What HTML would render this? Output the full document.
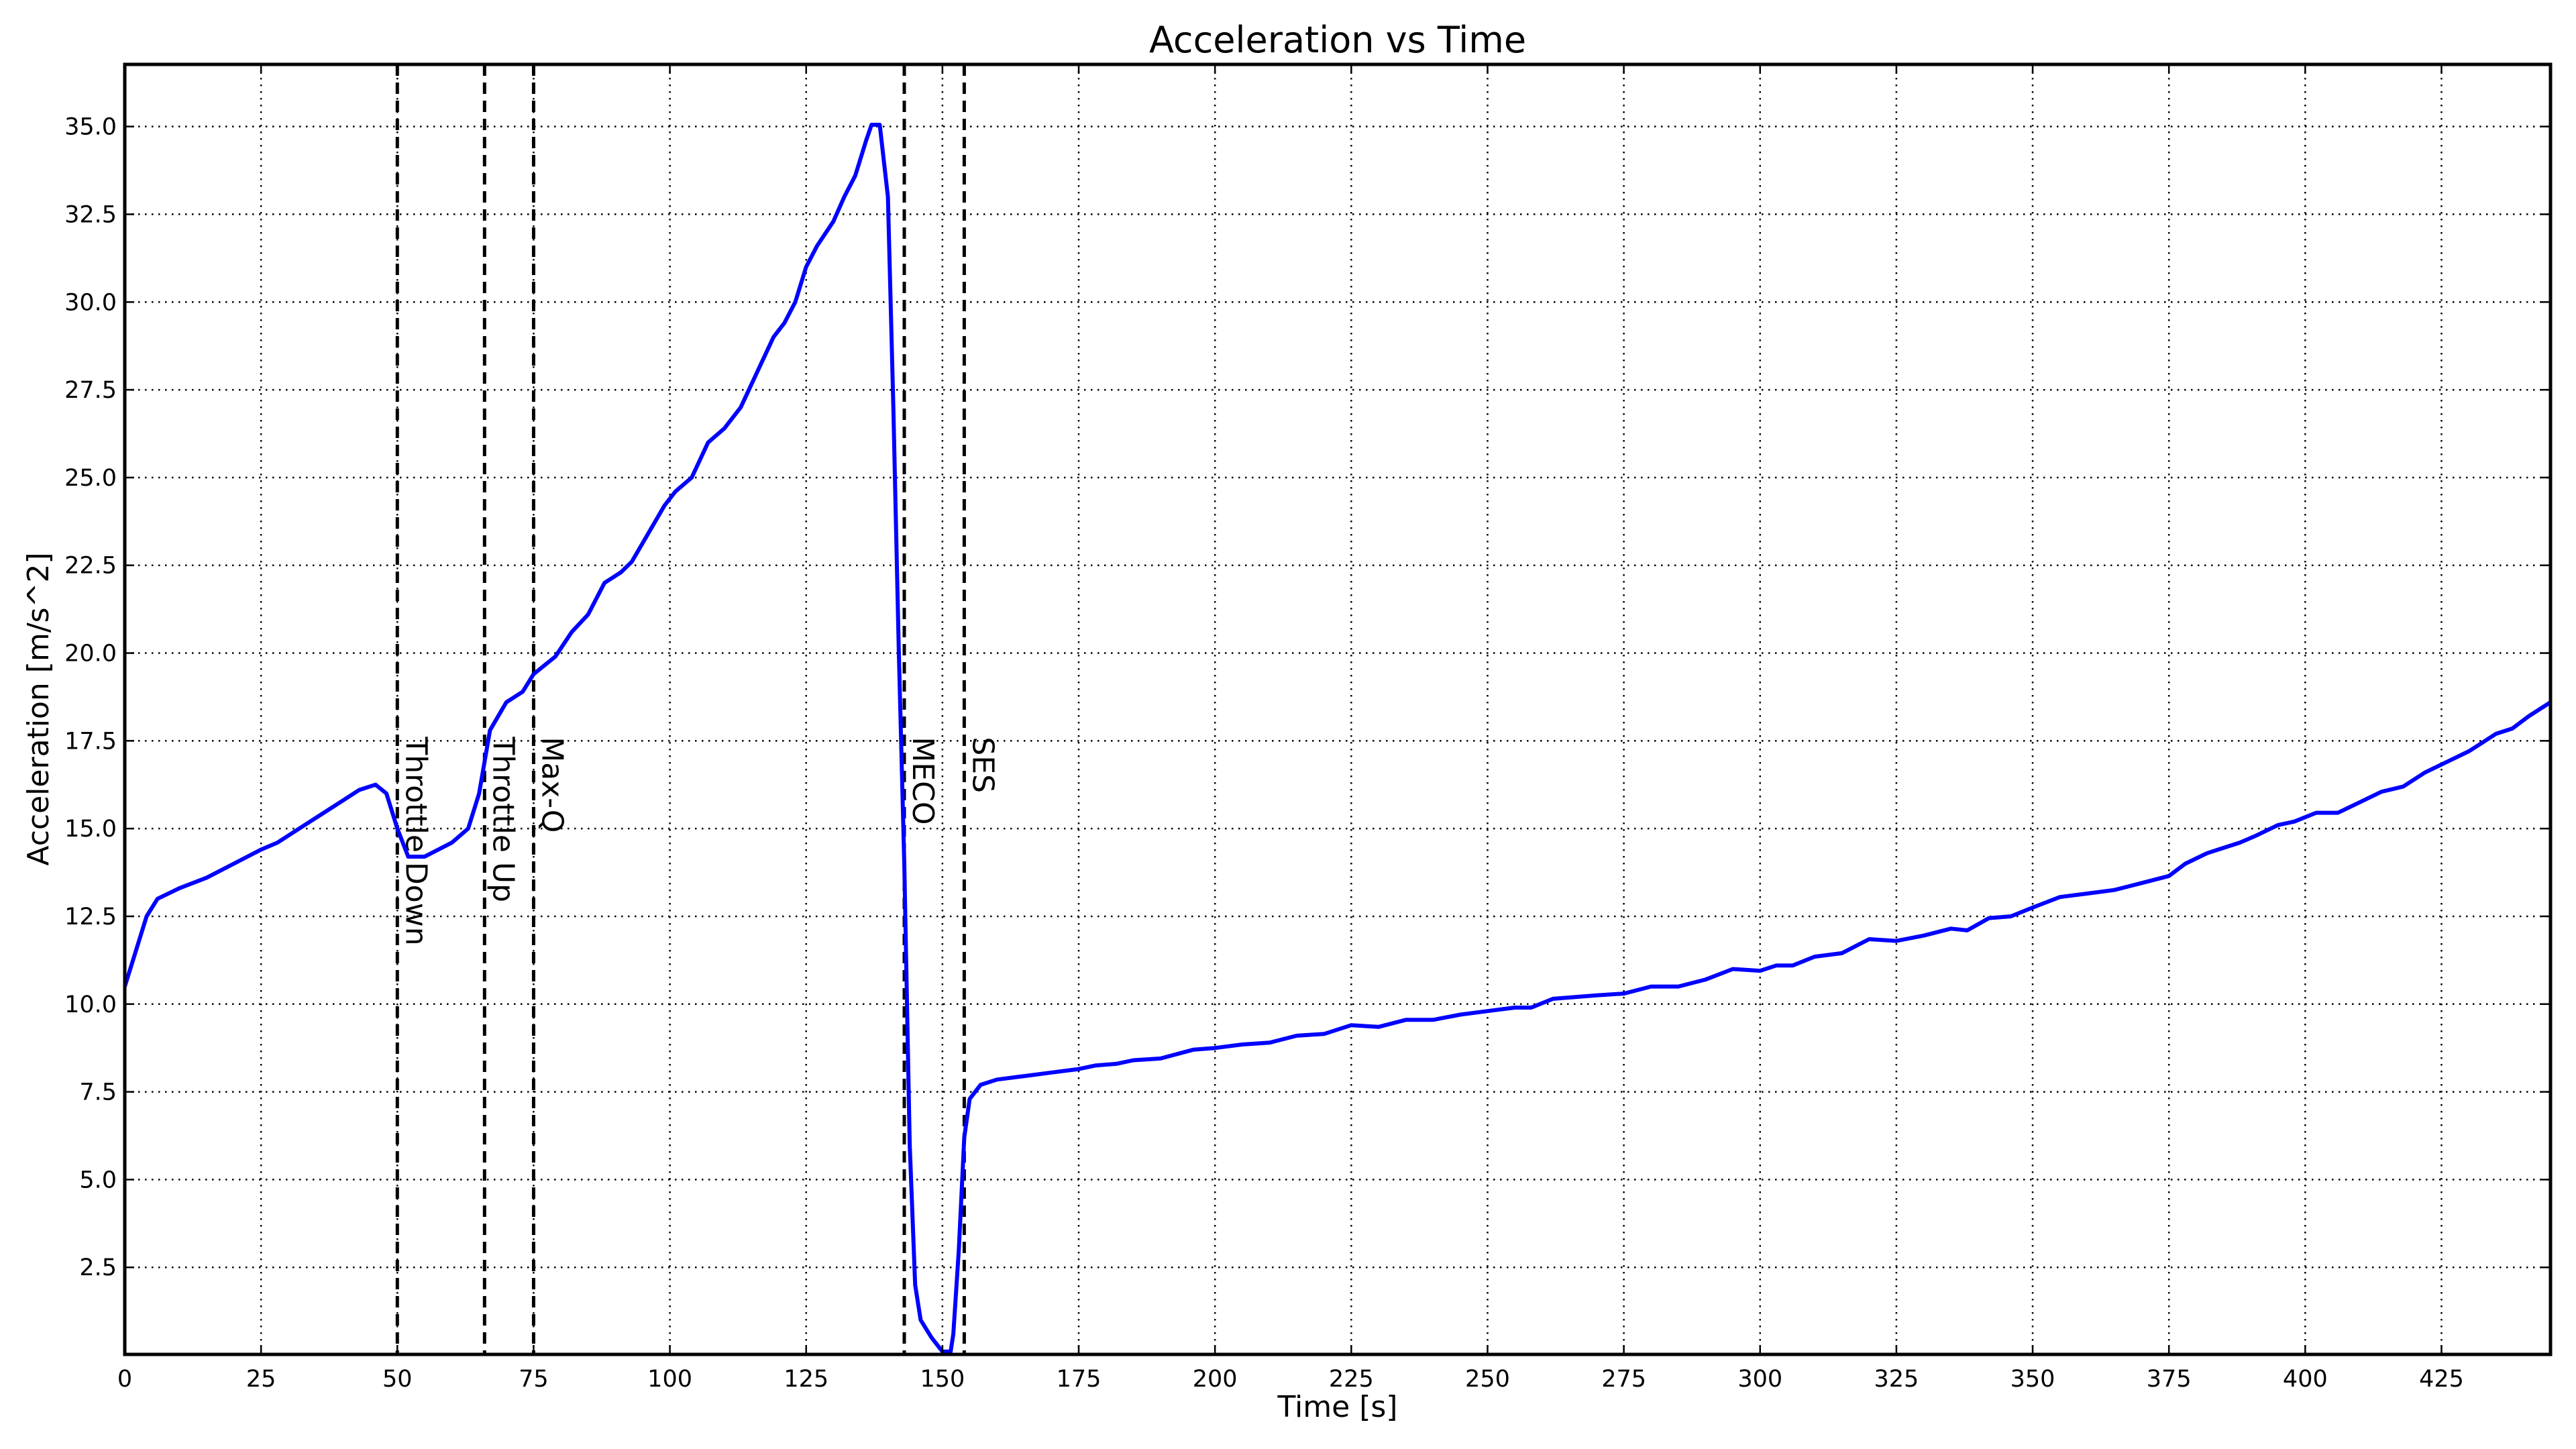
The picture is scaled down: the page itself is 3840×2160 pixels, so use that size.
<!DOCTYPE html>
<html><head><meta charset="utf-8"><style>
html,body{margin:0;padding:0;background:#fff;}
svg{display:block;font-family:"DejaVu Sans","Liberation Sans",sans-serif;}
</style></head><body>
<svg id="chart" width="3840" height="2160" viewBox="0 0 3840 2160" xmlns="http://www.w3.org/2000/svg">
<rect width="3840" height="2160" fill="#fff"/>
<g id="grid"></g>
<g id="events"></g>
<g id="series"></g>
<g id="axes"></g>
<text x="1994" y="78" font-size="54" text-anchor="middle">Acceleration vs Time</text>
<text x="1994" y="2112" font-size="44" text-anchor="middle">Time [s]</text>
<text x="0" y="0" font-size="44" text-anchor="middle" transform="translate(72,1057) rotate(-90)">Acceleration [m/s^2]</text>
</svg>
<script>
const times = [0,2,4,6,10,15,20,25,28,33,38,43,46,48,50,52,55,60,63,65,67,70,73,75,79,82,85,88,91,93,96,99,101,104,107,110,113,116,119,121,123,125,127,130,132,134,136,137,138.5,140,141,142,143,144,145,146,148,150,151.5,152,153,154,155,157,160,165,170,175,178,182,185,190,196,200,205,210,215,220,225,230,235,240,245,250,255,258,262,270,275,280,285,290,295,300,303,306,310,315,320,325,330,335,338,342,346,350,355,360,365,370,375,378,382,388,391,395,398,402,406,410,414,418,422,426,430,432,435,438,441,445];
const accel = [10.5,11.5,12.5,13.0,13.3,13.6,14.0,14.4,14.6,15.1,15.6,16.1,16.25,16.0,15.0,14.2,14.2,14.6,15.0,16.0,17.8,18.6,18.9,19.4,19.9,20.6,21.1,22.0,22.3,22.6,23.4,24.2,24.6,25.0,26.0,26.4,27.0,28.0,29.0,29.4,30.0,31.0,31.6,32.3,33.0,33.6,34.6,35.05,35.05,33.0,27,20,14,6,2.0,1.0,0.5,0.1,0.1,0.6,3,6.2,7.3,7.7,7.85,7.95,8.05,8.15,8.25,8.3,8.4,8.45,8.7,8.75,8.85,8.9,9.1,9.15,9.4,9.35,9.55,9.55,9.7,9.8,9.9,9.9,10.15,10.25,10.3,10.5,10.5,10.7,11.0,10.95,11.1,11.1,11.35,11.45,11.85,11.8,11.95,12.15,12.1,12.45,12.5,12.75,13.05,13.15,13.25,13.45,13.65,14.0,14.3,14.6,14.8,15.1,15.2,15.45,15.45,15.75,16.05,16.2,16.6,16.9,17.2,17.4,17.7,17.85,18.2,18.6];
const eventTimes = [50,66,75,143,154];
const eventLabels = ["Throttle Down","Throttle Up","Max-Q","MECO","SES"];
const xTicks = [0,25,50,75,100,125,150,175,200,225,250,275,300,325,350,375,400,425];
const yTicks = [2.5,5.0,7.5,10.0,12.5,15.0,17.5,20.0,22.5,25.0,27.5,30.0,32.5,35.0];
const yTickLabels = ["2.5","5.0","7.5","10.0","12.5","15.0","17.5","20.0","22.5","25.0","27.5","30.0","32.5","35.0"];

const L=186,R=3802,T=96,B=2019;
const xMin=0,xMax=445,yMin=0.02,yMax=36.77;
const sx=v=>L+(v-xMin)/(xMax-xMin)*(R-L);
const sy=v=>B-(v-yMin)/(yMax-yMin)*(B-T);
const NS="http://www.w3.org/2000/svg";
function mk(tag,attrs,parent){const e=document.createElementNS(NS,tag);for(const k in attrs)e.setAttribute(k,attrs[k]);parent.appendChild(e);return e;}
const grid=document.getElementById('grid'),axes=document.getElementById('axes'),ev=document.getElementById('events'),ser=document.getElementById('series');

xTicks.forEach(t=>{
  const x=sx(t);
  const g=mk('line',{x1:x,x2:x,y1:T,y2:B,stroke:'#000','stroke-width':2.5,'stroke-dasharray':'2.5 7.5'},grid);
  
  
  mk('line',{x1:x,x2:x,y1:B,y2:B-14,stroke:'#000','stroke-width':2.5},axes);
  mk('line',{x1:x,x2:x,y1:T,y2:T+14,stroke:'#000','stroke-width':2.5},axes);
  const tx=mk('text',{x:x,y:B+48,'font-size':35,'text-anchor':'middle'},axes);
  tx.textContent=String(t);
  
  
});
yTicks.forEach((t,i)=>{
  const y=sy(t);
  const g=mk('line',{x1:L,x2:R,y1:y,y2:y,stroke:'#000','stroke-width':2.5,'stroke-dasharray':'2.5 7.5'},grid);
  
  
  mk('line',{x1:L,x2:L+14,y1:y,y2:y,stroke:'#000','stroke-width':2.5},axes);
  mk('line',{x1:R,x2:R-14,y1:y,y2:y,stroke:'#000','stroke-width':2.5},axes);
  const tx=mk('text',{x:L-12,y:y+12,'font-size':35,'text-anchor':'end'},axes);
  tx.textContent=yTickLabels[i];
  
  
});

const pts=times.map((t,i)=>sx(t).toFixed(1)+','+sy(accel[i]).toFixed(1)).join(' ');
const line=mk('polyline',{points:pts,fill:'none',stroke:'#0000ff','stroke-width':6,'stroke-linejoin':'round'},ser);



eventTimes.forEach((t,i)=>{
  const x=sx(t);
  const l=mk('line',{x1:x,x2:x,y1:T,y2:B,stroke:'#000','stroke-width':5,'stroke-dasharray':'17 10'},ev);
  
  
  const tx=mk('text',{x:0,y:0,'font-size':44,transform:'translate('+(x+13)+','+(sy(17.5)-6)+') rotate(90)'},ev);
  tx.textContent=eventLabels[i];
  
  
});

const frame=mk('rect',{x:L,y:T,width:R-L,height:B-T,fill:'none',stroke:'#000','stroke-width':5},axes);


</script>
</body></html>
